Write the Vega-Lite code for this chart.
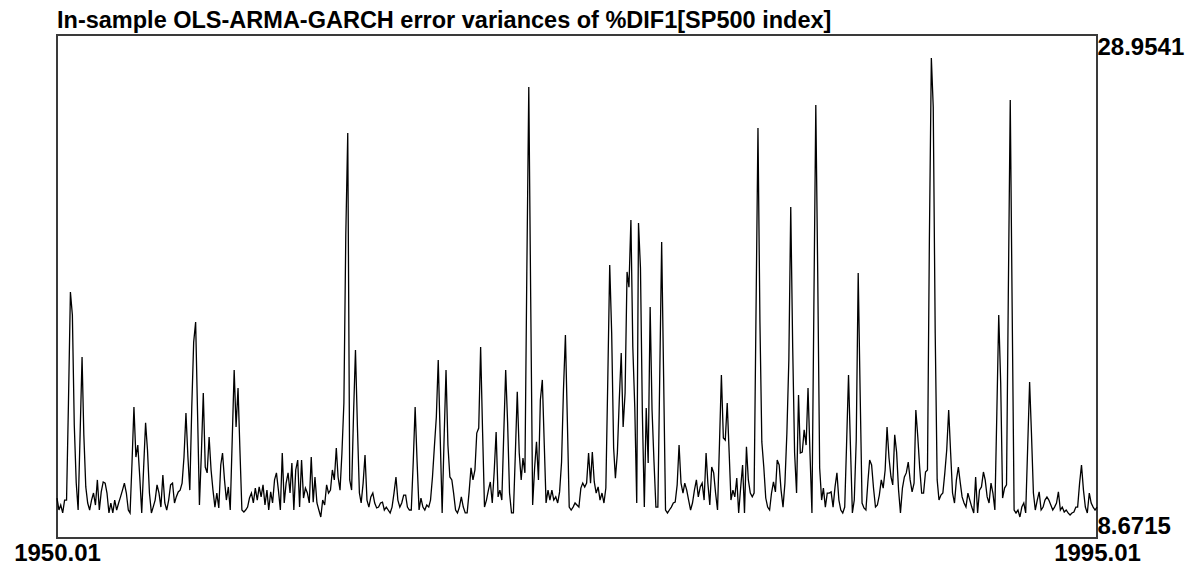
{
  "$schema": "https://vega.github.io/schema/vega-lite/v6.json",
  "autosize": {"type": "none"},
  "padding": {"left": 57, "top": 35, "right": 92, "bottom": 27},
  "width": 1040,
  "height": 503,
  "background": "#ffffff",
  "title": {
    "text": "In-sample OLS-ARMA-GARCH error variances of %DIF1[SP500 index]",
    "anchor": "start",
    "frame": "group",
    "baseline": "alphabetic",
    "offset": 8,
    "dy": 24,
    "font": "Liberation Sans",
    "fontSize": 23.5,
    "fontWeight": "bold",
    "color": "#000000"
  },
  "config": {
    "view": {"stroke": "#3a3a3a", "strokeWidth": 2},
    "axis": {
      "grid": false,
      "ticks": false,
      "domain": false,
      "labelFont": "Liberation Sans",
      "labelFontWeight": "bold",
      "labelFontSize": 24,
      "labelColor": "#000000",
      "title": null
    }
  },
  "data": {
    "format": {"parse": {"date": "utc:'%Y-%m'"}},
    "values": [
      {"date":"1950-01","v":9.51},{"date":"1950-02","v":8.98},{"date":"1950-03","v":9.20},{"date":"1950-04","v":8.85},{"date":"1950-05","v":9.42},{"date":"1950-06","v":9.42},{"date":"1950-07","v":13.71},{"date":"1950-08","v":18.61},{"date":"1950-09","v":17.60},{"date":"1950-10","v":12.74},{"date":"1950-11","v":10.17},{"date":"1950-12","v":8.98},
      {"date":"1951-01","v":12.30},{"date":"1951-02","v":15.74},{"date":"1951-03","v":12.30},{"date":"1951-04","v":10.00},{"date":"1951-05","v":9.29},{"date":"1951-06","v":8.98},{"date":"1951-07","v":9.42},{"date":"1951-08","v":9.73},{"date":"1951-09","v":9.20},{"date":"1951-10","v":10.31},{"date":"1951-11","v":8.98},{"date":"1951-12","v":9.78},
      {"date":"1952-01","v":10.22},{"date":"1952-02","v":10.17},{"date":"1952-03","v":9.73},{"date":"1952-04","v":8.85},{"date":"1952-05","v":9.29},{"date":"1952-06","v":8.85},{"date":"1952-07","v":9.42},{"date":"1952-08","v":8.98},{"date":"1952-09","v":9.29},{"date":"1952-10","v":9.56},{"date":"1952-11","v":9.86},{"date":"1952-12","v":10.17},
      {"date":"1953-01","v":9.73},{"date":"1953-02","v":8.98},{"date":"1953-03","v":8.85},{"date":"1953-04","v":11.10},{"date":"1953-05","v":13.53},{"date":"1953-06","v":11.32},{"date":"1953-07","v":11.85},{"date":"1953-08","v":10.44},{"date":"1953-09","v":8.85},{"date":"1953-10","v":10.84},{"date":"1953-11","v":12.83},{"date":"1953-12","v":11.63},
      {"date":"1954-01","v":9.73},{"date":"1954-02","v":8.85},{"date":"1954-03","v":9.11},{"date":"1954-04","v":9.42},{"date":"1954-05","v":10.09},{"date":"1954-06","v":9.73},{"date":"1954-07","v":9.11},{"date":"1954-08","v":10.53},{"date":"1954-09","v":9.29},{"date":"1954-10","v":8.98},{"date":"1954-11","v":9.42},{"date":"1954-12","v":10.09},
      {"date":"1955-01","v":10.17},{"date":"1955-02","v":9.29},{"date":"1955-03","v":9.56},{"date":"1955-04","v":9.78},{"date":"1955-05","v":9.86},{"date":"1955-06","v":10.17},{"date":"1955-07","v":11.32},{"date":"1955-08","v":13.27},{"date":"1955-09","v":11.32},{"date":"1955-10","v":9.86},{"date":"1955-11","v":13.53},{"date":"1955-12","v":16.40},
      {"date":"1956-01","v":17.29},{"date":"1956-02","v":13.18},{"date":"1956-03","v":9.20},{"date":"1956-04","v":11.50},{"date":"1956-05","v":14.15},{"date":"1956-06","v":10.88},{"date":"1956-07","v":10.62},{"date":"1956-08","v":12.21},{"date":"1956-09","v":10.75},{"date":"1956-10","v":9.86},{"date":"1956-11","v":9.11},{"date":"1956-12","v":9.73},
      {"date":"1957-01","v":9.07},{"date":"1957-02","v":10.97},{"date":"1957-03","v":11.50},{"date":"1957-04","v":10.31},{"date":"1957-05","v":9.42},{"date":"1957-06","v":10.00},{"date":"1957-07","v":8.98},{"date":"1957-08","v":12.07},{"date":"1957-09","v":15.17},{"date":"1957-10","v":12.65},{"date":"1957-11","v":14.37},{"date":"1957-12","v":11.63},
      {"date":"1958-01","v":8.98},{"date":"1958-02","v":8.89},{"date":"1958-03","v":8.98},{"date":"1958-04","v":9.11},{"date":"1958-05","v":9.51},{"date":"1958-06","v":9.73},{"date":"1958-07","v":9.29},{"date":"1958-08","v":9.95},{"date":"1958-09","v":9.42},{"date":"1958-10","v":10.00},{"date":"1958-11","v":9.56},{"date":"1958-12","v":10.09},
      {"date":"1959-01","v":9.20},{"date":"1959-02","v":9.86},{"date":"1959-03","v":8.98},{"date":"1959-04","v":9.78},{"date":"1959-05","v":9.29},{"date":"1959-06","v":10.31},{"date":"1959-07","v":10.62},{"date":"1959-08","v":9.86},{"date":"1959-09","v":8.98},{"date":"1959-10","v":11.50},{"date":"1959-11","v":9.29},{"date":"1959-12","v":10.17},
      {"date":"1960-01","v":10.62},{"date":"1960-02","v":9.73},{"date":"1960-03","v":11.06},{"date":"1960-04","v":8.98},{"date":"1960-05","v":10.75},{"date":"1960-06","v":11.19},{"date":"1960-07","v":9.11},{"date":"1960-08","v":11.19},{"date":"1960-09","v":9.51},{"date":"1960-10","v":9.95},{"date":"1960-11","v":9.73},{"date":"1960-12","v":9.29},
      {"date":"1961-01","v":11.32},{"date":"1961-02","v":9.33},{"date":"1961-03","v":10.44},{"date":"1961-04","v":9.29},{"date":"1961-05","v":8.98},{"date":"1961-06","v":8.67},{"date":"1961-07","v":9.42},{"date":"1961-08","v":9.20},{"date":"1961-09","v":10.09},{"date":"1961-10","v":9.73},{"date":"1961-11","v":9.86},{"date":"1961-12","v":10.75},
      {"date":"1962-01","v":10.31},{"date":"1962-02","v":11.72},{"date":"1962-03","v":10.44},{"date":"1962-04","v":9.86},{"date":"1962-05","v":11.50},{"date":"1962-06","v":13.71},{"date":"1962-07","v":21.13},{"date":"1962-08","v":25.64},{"date":"1962-09","v":10.31},{"date":"1962-10","v":9.86},{"date":"1962-11","v":13.27},{"date":"1962-12","v":16.05},
      {"date":"1963-01","v":12.65},{"date":"1963-02","v":9.73},{"date":"1963-03","v":9.29},{"date":"1963-04","v":10.17},{"date":"1963-05","v":11.41},{"date":"1963-06","v":9.42},{"date":"1963-07","v":9.11},{"date":"1963-08","v":9.56},{"date":"1963-09","v":9.73},{"date":"1963-10","v":9.29},{"date":"1963-11","v":9.07},{"date":"1963-12","v":9.11},
      {"date":"1964-01","v":9.29},{"date":"1964-02","v":9.33},{"date":"1964-03","v":8.98},{"date":"1964-04","v":9.11},{"date":"1964-05","v":8.98},{"date":"1964-06","v":8.85},{"date":"1964-07","v":9.11},{"date":"1964-08","v":9.73},{"date":"1964-09","v":10.44},{"date":"1964-10","v":9.42},{"date":"1964-11","v":9.11},{"date":"1964-12","v":9.29},
      {"date":"1965-01","v":9.64},{"date":"1965-02","v":9.64},{"date":"1965-03","v":9.11},{"date":"1965-04","v":8.98},{"date":"1965-05","v":8.98},{"date":"1965-06","v":11.10},{"date":"1965-07","v":13.53},{"date":"1965-08","v":11.10},{"date":"1965-09","v":8.98},{"date":"1965-10","v":9.51},{"date":"1965-11","v":9.11},{"date":"1965-12","v":8.98},
      {"date":"1966-01","v":9.20},{"date":"1966-02","v":9.11},{"date":"1966-03","v":9.42},{"date":"1966-04","v":10.44},{"date":"1966-05","v":11.77},{"date":"1966-06","v":13.09},{"date":"1966-07","v":15.61},{"date":"1966-08","v":12.21},{"date":"1966-09","v":8.85},{"date":"1966-10","v":12.07},{"date":"1966-11","v":15.17},{"date":"1966-12","v":11.85},
      {"date":"1967-01","v":10.44},{"date":"1967-02","v":10.31},{"date":"1967-03","v":9.73},{"date":"1967-04","v":8.98},{"date":"1967-05","v":8.85},{"date":"1967-06","v":9.11},{"date":"1967-07","v":9.56},{"date":"1967-08","v":9.11},{"date":"1967-09","v":8.85},{"date":"1967-10","v":8.85},{"date":"1967-11","v":9.78},{"date":"1967-12","v":10.84},
      {"date":"1968-01","v":10.31},{"date":"1968-02","v":10.75},{"date":"1968-03","v":12.38},{"date":"1968-04","v":12.60},{"date":"1968-05","v":16.18},{"date":"1968-06","v":12.43},{"date":"1968-07","v":9.11},{"date":"1968-08","v":9.42},{"date":"1968-09","v":9.86},{"date":"1968-10","v":10.22},{"date":"1968-11","v":9.29},{"date":"1968-12","v":10.66},
      {"date":"1969-01","v":12.43},{"date":"1969-02","v":9.56},{"date":"1969-03","v":9.86},{"date":"1969-04","v":9.42},{"date":"1969-05","v":12.30},{"date":"1969-06","v":15.17},{"date":"1969-07","v":12.87},{"date":"1969-08","v":9.73},{"date":"1969-09","v":8.85},{"date":"1969-10","v":8.85},{"date":"1969-11","v":11.50},{"date":"1969-12","v":14.20},
      {"date":"1970-01","v":11.50},{"date":"1970-02","v":10.31},{"date":"1970-03","v":11.28},{"date":"1970-04","v":10.62},{"date":"1970-05","v":19.50},{"date":"1970-06","v":27.67},{"date":"1970-07","v":18.39},{"date":"1970-08","v":9.20},{"date":"1970-09","v":10.84},{"date":"1970-10","v":11.99},{"date":"1970-11","v":10.31},{"date":"1970-12","v":13.84},
      {"date":"1971-01","v":14.73},{"date":"1971-02","v":11.85},{"date":"1971-03","v":9.29},{"date":"1971-04","v":9.86},{"date":"1971-05","v":9.42},{"date":"1971-06","v":9.86},{"date":"1971-07","v":9.42},{"date":"1971-08","v":9.56},{"date":"1971-09","v":9.29},{"date":"1971-10","v":9.78},{"date":"1971-11","v":11.10},{"date":"1971-12","v":14.28},
      {"date":"1972-01","v":16.71},{"date":"1972-02","v":12.87},{"date":"1972-03","v":9.11},{"date":"1972-04","v":8.98},{"date":"1972-05","v":9.11},{"date":"1972-06","v":9.29},{"date":"1972-07","v":9.20},{"date":"1972-08","v":9.11},{"date":"1972-09","v":9.95},{"date":"1972-10","v":10.17},{"date":"1972-11","v":10.00},{"date":"1972-12","v":10.17},
      {"date":"1973-01","v":11.50},{"date":"1973-02","v":10.17},{"date":"1973-03","v":11.54},{"date":"1973-04","v":10.22},{"date":"1973-05","v":9.73},{"date":"1973-06","v":10.00},{"date":"1973-07","v":9.42},{"date":"1973-08","v":9.73},{"date":"1973-09","v":9.29},{"date":"1973-10","v":9.95},{"date":"1973-11","v":14.81},{"date":"1973-12","v":19.81},
      {"date":"1974-01","v":16.80},{"date":"1974-02","v":11.72},{"date":"1974-03","v":10.39},{"date":"1974-04","v":11.50},{"date":"1974-05","v":13.84},{"date":"1974-06","v":15.92},{"date":"1974-07","v":12.65},{"date":"1974-08","v":14.15},{"date":"1974-09","v":19.50},{"date":"1974-10","v":18.83},{"date":"1974-11","v":21.80},{"date":"1974-12","v":16.18},
      {"date":"1975-01","v":13.53},{"date":"1975-02","v":9.29},{"date":"1975-03","v":21.66},{"date":"1975-04","v":19.67},{"date":"1975-05","v":13.27},{"date":"1975-06","v":9.11},{"date":"1975-07","v":13.49},{"date":"1975-08","v":11.06},{"date":"1975-09","v":17.95},{"date":"1975-10","v":13.40},{"date":"1975-11","v":11.10},{"date":"1975-12","v":9.11},
      {"date":"1976-01","v":9.11},{"date":"1976-02","v":15.17},{"date":"1976-03","v":20.82},{"date":"1976-04","v":14.86},{"date":"1976-05","v":8.98},{"date":"1976-06","v":8.85},{"date":"1976-07","v":8.98},{"date":"1976-08","v":9.11},{"date":"1976-09","v":9.29},{"date":"1976-10","v":9.33},{"date":"1976-11","v":10.09},{"date":"1976-12","v":11.85},
      {"date":"1977-01","v":10.17},{"date":"1977-02","v":9.73},{"date":"1977-03","v":10.17},{"date":"1977-04","v":9.86},{"date":"1977-05","v":9.42},{"date":"1977-06","v":8.98},{"date":"1977-07","v":9.29},{"date":"1977-08","v":9.86},{"date":"1977-09","v":10.31},{"date":"1977-10","v":9.56},{"date":"1977-11","v":10.00},{"date":"1977-12","v":10.17},
      {"date":"1978-01","v":9.42},{"date":"1978-02","v":11.50},{"date":"1978-03","v":10.17},{"date":"1978-04","v":9.20},{"date":"1978-05","v":10.88},{"date":"1978-06","v":10.62},{"date":"1978-07","v":9.73},{"date":"1978-08","v":8.98},{"date":"1978-09","v":11.94},{"date":"1978-10","v":14.95},{"date":"1978-11","v":12.16},{"date":"1978-12","v":12.07},
      {"date":"1979-01","v":13.71},{"date":"1979-02","v":11.50},{"date":"1979-03","v":9.42},{"date":"1979-04","v":9.86},{"date":"1979-05","v":9.56},{"date":"1979-06","v":10.39},{"date":"1979-07","v":8.85},{"date":"1979-08","v":9.95},{"date":"1979-09","v":10.97},{"date":"1979-10","v":8.85},{"date":"1979-11","v":11.77},{"date":"1979-12","v":10.31},
      {"date":"1980-01","v":9.73},{"date":"1980-02","v":9.56},{"date":"1980-03","v":9.73},{"date":"1980-04","v":17.95},{"date":"1980-05","v":25.86},{"date":"1980-06","v":17.29},{"date":"1980-07","v":11.99},{"date":"1980-08","v":10.88},{"date":"1980-09","v":9.51},{"date":"1980-10","v":9.11},{"date":"1980-11","v":8.98},{"date":"1980-12","v":9.73},
      {"date":"1981-01","v":10.22},{"date":"1981-02","v":9.78},{"date":"1981-03","v":11.19},{"date":"1981-04","v":10.97},{"date":"1981-05","v":9.86},{"date":"1981-06","v":9.11},{"date":"1981-07","v":10.17},{"date":"1981-08","v":12.38},{"date":"1981-09","v":15.61},{"date":"1981-10","v":22.37},{"date":"1981-11","v":16.14},{"date":"1981-12","v":11.50},
      {"date":"1982-01","v":9.73},{"date":"1982-02","v":14.06},{"date":"1982-03","v":11.50},{"date":"1982-04","v":11.54},{"date":"1982-05","v":12.52},{"date":"1982-06","v":11.85},{"date":"1982-07","v":14.37},{"date":"1982-08","v":11.50},{"date":"1982-09","v":8.85},{"date":"1982-10","v":17.82},{"date":"1982-11","v":26.88},{"date":"1982-12","v":19.50},
      {"date":"1983-01","v":10.84},{"date":"1983-02","v":9.42},{"date":"1983-03","v":9.95},{"date":"1983-04","v":9.11},{"date":"1983-05","v":9.73},{"date":"1983-06","v":9.73},{"date":"1983-07","v":9.78},{"date":"1983-08","v":9.11},{"date":"1983-09","v":10.00},{"date":"1983-10","v":10.62},{"date":"1983-11","v":9.42},{"date":"1983-12","v":8.98},
      {"date":"1984-01","v":8.85},{"date":"1984-02","v":9.11},{"date":"1984-03","v":11.85},{"date":"1984-04","v":14.95},{"date":"1984-05","v":11.85},{"date":"1984-06","v":8.85},{"date":"1984-07","v":9.42},{"date":"1984-08","v":12.07},{"date":"1984-09","v":19.45},{"date":"1984-10","v":14.28},{"date":"1984-11","v":9.29},{"date":"1984-12","v":9.07},
      {"date":"1985-01","v":8.98},{"date":"1985-02","v":10.22},{"date":"1985-03","v":11.19},{"date":"1985-04","v":10.97},{"date":"1985-05","v":9.95},{"date":"1985-06","v":9.11},{"date":"1985-07","v":9.20},{"date":"1985-08","v":9.64},{"date":"1985-09","v":10.31},{"date":"1985-10","v":9.95},{"date":"1985-11","v":10.75},{"date":"1985-12","v":12.65},
      {"date":"1986-01","v":11.28},{"date":"1986-02","v":10.44},{"date":"1986-03","v":10.09},{"date":"1986-04","v":12.30},{"date":"1986-05","v":11.54},{"date":"1986-06","v":9.86},{"date":"1986-07","v":8.85},{"date":"1986-08","v":9.95},{"date":"1986-09","v":10.44},{"date":"1986-10","v":10.62},{"date":"1986-11","v":11.10},{"date":"1986-12","v":10.31},
      {"date":"1987-01","v":9.78},{"date":"1987-02","v":10.17},{"date":"1987-03","v":13.40},{"date":"1987-04","v":12.21},{"date":"1987-05","v":10.84},{"date":"1987-06","v":9.73},{"date":"1987-07","v":9.73},{"date":"1987-08","v":10.66},{"date":"1987-09","v":10.75},{"date":"1987-10","v":20.91},{"date":"1987-11","v":28.9541},{"date":"1987-12","v":26.79},
      {"date":"1988-01","v":16.80},{"date":"1988-02","v":10.31},{"date":"1988-03","v":9.42},{"date":"1988-04","v":9.64},{"date":"1988-05","v":9.73},{"date":"1988-06","v":10.62},{"date":"1988-07","v":11.63},{"date":"1988-08","v":13.40},{"date":"1988-09","v":11.50},{"date":"1988-10","v":9.73},{"date":"1988-11","v":9.29},{"date":"1988-12","v":10.31},
      {"date":"1989-01","v":10.88},{"date":"1989-02","v":10.17},{"date":"1989-03","v":9.56},{"date":"1989-04","v":9.29},{"date":"1989-05","v":9.11},{"date":"1989-06","v":9.73},{"date":"1989-07","v":9.42},{"date":"1989-08","v":9.11},{"date":"1989-09","v":8.85},{"date":"1989-10","v":10.44},{"date":"1989-11","v":8.85},{"date":"1989-12","v":9.86},
      {"date":"1990-01","v":10.00},{"date":"1990-02","v":10.66},{"date":"1990-03","v":10.31},{"date":"1990-04","v":9.56},{"date":"1990-05","v":9.29},{"date":"1990-06","v":10.17},{"date":"1990-07","v":9.73},{"date":"1990-08","v":8.98},{"date":"1990-09","v":13.27},{"date":"1990-10","v":17.60},{"date":"1990-11","v":14.59},{"date":"1990-12","v":9.51},
      {"date":"1991-01","v":9.95},{"date":"1991-02","v":10.09},{"date":"1991-03","v":18.39},{"date":"1991-04","v":27.10},{"date":"1991-05","v":17.95},{"date":"1991-06","v":8.98},{"date":"1991-07","v":8.85},{"date":"1991-08","v":8.98},{"date":"1991-09","v":8.6715},{"date":"1991-10","v":9.11},{"date":"1991-11","v":9.29},{"date":"1991-12","v":8.85},
      {"date":"1992-01","v":11.72},{"date":"1992-02","v":14.64},{"date":"1992-03","v":12.38},{"date":"1992-04","v":9.73},{"date":"1992-05","v":8.98},{"date":"1992-06","v":9.42},{"date":"1992-07","v":9.78},{"date":"1992-08","v":8.98},{"date":"1992-09","v":9.11},{"date":"1992-10","v":9.42},{"date":"1992-11","v":9.56},{"date":"1992-12","v":9.42},
      {"date":"1993-01","v":9.20},{"date":"1993-02","v":8.98},{"date":"1993-03","v":9.11},{"date":"1993-04","v":9.29},{"date":"1993-05","v":9.78},{"date":"1993-06","v":8.98},{"date":"1993-07","v":9.11},{"date":"1993-08","v":8.89},{"date":"1993-09","v":8.98},{"date":"1993-10","v":8.85},{"date":"1993-11","v":8.76},{"date":"1993-12","v":8.85},
      {"date":"1994-01","v":8.89},{"date":"1994-02","v":9.11},{"date":"1994-03","v":9.11},{"date":"1994-04","v":10.17},{"date":"1994-05","v":10.97},{"date":"1994-06","v":9.86},{"date":"1994-07","v":9.11},{"date":"1994-08","v":8.85},{"date":"1994-09","v":9.73},{"date":"1994-10","v":9.29},{"date":"1994-11","v":9.11},{"date":"1994-12","v":8.98},
      {"date":"1995-01","v":9.11}
    ]
  },
  "mark": {"type": "line", "color": "#000000", "strokeWidth": 1.3, "interpolate": "linear"},
  "encoding": {
    "x": {
      "field": "date",
      "type": "temporal",
      "scale": {"type": "utc", "nice": false},
      "axis": {
        "orient": "bottom",
        "values": [{"year": 1950, "month": 1, "date": 1, "utc": true}, {"year": 1995, "month": 1, "date": 1, "utc": true}],
        "labelExpr": "utcFormat(datum.value, '%Y.%m')",
        "labelPadding": 3,
        "labelFlush": false,
        "labelOverlap": false
      }
    },
    "y": {
      "field": "v",
      "type": "quantitative",
      "scale": {"domain": [7.7435, 29.9706], "nice": false, "zero": false},
      "axis": {
        "orient": "right",
        "values": [7.7435, 29.9706],
        "labelExpr": "datum.value > 20 ? '28.9541' : '8.6715'",
        "labelFlush": true,
        "labelPadding": 0,
        "labelOverlap": false
      }
    }
  }
}
